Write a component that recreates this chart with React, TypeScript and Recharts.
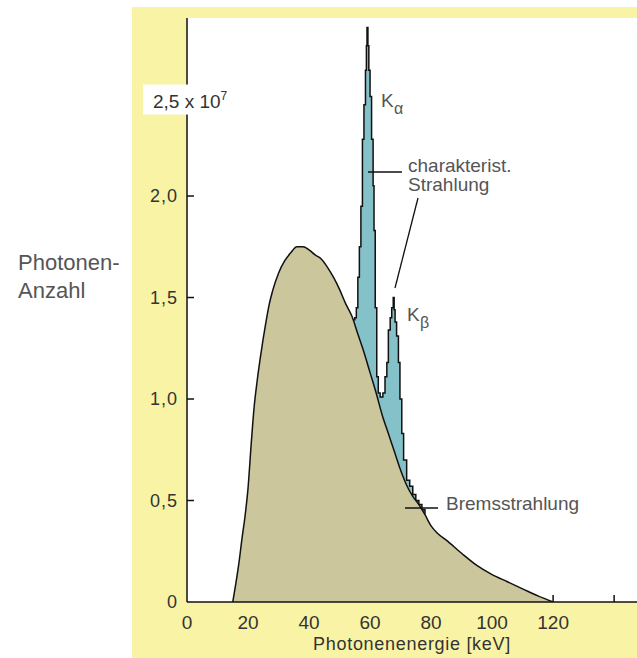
import React from "react";
import { Area, CartesianGrid, ComposedChart, XAxis, YAxis } from "recharts";

// Bremsstrahlung continuum (counts in units of 10^7)
const bremsKeV = [
  15, 16, 17, 18, 19, 20, 21, 22, 23, 24, 25, 26, 27, 28, 30, 32, 34, 36, 38, 40, 42, 44, 46, 48, 50,
  52, 54, 56, 58, 60, 62, 64, 66, 68, 70, 72, 74, 76, 78, 80, 82, 85, 90, 95, 100, 105, 110, 115, 120,
];
const bremsCount = [
  0, 0.09, 0.19, 0.31, 0.42, 0.56, 0.77, 0.96, 1.09, 1.2, 1.3, 1.39, 1.47, 1.53, 1.62, 1.68, 1.72, 1.75,
  1.75, 1.735, 1.71, 1.69, 1.65, 1.6, 1.54, 1.47, 1.41, 1.32, 1.23, 1.13, 1.03, 0.92, 0.83, 0.74, 0.65,
  0.575, 0.52, 0.48, 0.43, 0.375, 0.34, 0.305, 0.24, 0.18, 0.135, 0.1, 0.065, 0.03, 0,
];

// total spectrum around the K lines (characteristic + continuum)
const peakKeV = [
  54.5, 55, 55.5, 56, 56.5, 57, 57.5, 58, 58.5, 58.8, 59, 59.3, 59.6, 60, 60.5, 61, 61.3, 61.7, 62.2,
  62.7, 63.3, 64.2, 64.9, 65.5, 66, 66.6, 67.1, 67.6, 67.9, 68.2, 68.7, 69.3, 69.8, 70.4, 71, 72, 73,
  74, 75, 76, 77, 78,
];
const peakCount = [
  1.39, 1.4, 1.45, 1.6, 1.75, 1.95, 2.28, 2.45, 2.62, 2.74, 2.83, 2.74, 2.62, 2.49, 2.28, 2.05, 1.83,
  1.45, 1.11, 1.03, 1.01, 1.03, 1.11, 1.18, 1.34, 1.4, 1.45, 1.5, 1.44, 1.38, 1.31, 1.18, 1.0, 0.83,
  0.7, 0.6, 0.57, 0.53, 0.5, 0.48, 0.455, 0.43,
];

const xTicks = [0, 20, 40, 60, 80, 100, 120, 140];
const yTicks = [0, 0.5, 1, 1.5, 2, 2.5];
const yLabels = ["0", "0,5", "1,0", "1,5", "2,0", "2,5 x 10"];

const brems = bremsKeV.map((kev, i) => ({ kev, count: bremsCount[i] }));
const peaks = peakKeV.map((kev, i) => ({ kev, count: peakCount[i] }));

const FONT = '"Liberation Sans", Arial, sans-serif';
const YELLOW = "#f9f3a6";

function BottomTick({ x, y, payload }: any) {
  const v = payload.value;
  return (
    <g>
      {v >= 120 && <line x1={x} x2={x} y1={y} y2={y - 7} stroke="#111" strokeWidth={1.5} />}
      {v <= 120 && (
        <text x={x} y={y + 27} textAnchor="middle" fontSize={19} fill="#333" fontFamily={FONT}>
          {v}
        </text>
      )}
    </g>
  );
}

function TopTick({ x, y, payload }: any) {
  if (payload.value === 0) return <g />;
  return <line x1={x} x2={x} y1={y} y2={y + 7} stroke="#111" strokeWidth={1.5} />;
}

function LeftTick({ x, y, payload }: any) {
  const i = yTicks.indexOf(payload.value);
  if (payload.value === 2.5) {
    return (
      <g>
        <rect x={143} y={y - 10} width={100} height={30} fill="#fff" />
        <text x={153} y={y + 13} fontSize={19} fill="#333" fontFamily={FONT}>
          {yLabels[i]}
          <tspan dy={-8} fontSize={12}>
            7
          </tspan>
        </text>
      </g>
    );
  }
  return (
    <g>
      {payload.value > 0 && <line x1={x} x2={x + 7} y1={y} y2={y} stroke="#111" strokeWidth={1.5} />}
      <text
        x={x - 9}
        y={y + 6}
        textAnchor="end"
        fontSize={18}
        fill="#333"
        fontFamily={FONT}
        style={{ letterSpacing: 1 }}
      >
        {yLabels[i]}
      </text>
    </g>
  );
}

export default function App() {
  return (
    <div style={{ position: "absolute", left: 0, top: 0, width: 637, height: 658, background: "#fff", fontFamily: FONT }}>
      <div style={{ position: "absolute", left: 132, top: 7, width: 505, height: 651, background: YELLOW }} />
      <div style={{ position: "absolute", left: 0, top: 0 }}>
        <ComposedChart width={637} height={658} margin={{ top: 18, right: 0, bottom: 0, left: 0 }}>
          <CartesianGrid horizontal={false} vertical={false} fill="#fff" />
          <XAxis
            xAxisId="b"
            type="number"
            dataKey="kev"
            domain={[0, 147.5]}
            ticks={xTicks}
            allowDataOverflow
            height={56}
            tickSize={0}
            tickMargin={0}
            tickLine={false}
            axisLine={{ stroke: "#111", strokeWidth: 1.5 }}
            tick={<BottomTick />}
            label={{
              value: "Photonenenergie [keV]",
              position: "insideBottom",
              offset: 8,
              fontSize: 18,
              fill: "#333",
              fontFamily: FONT,
              style: { letterSpacing: 0.7 },
            }}
          />
          <XAxis
            xAxisId="t"
            orientation="top"
            type="number"
            dataKey="kev"
            domain={[0, 147.5]}
            ticks={xTicks}
            allowDataOverflow
            height={0}
            tickSize={0}
            tickMargin={0}
            tickLine={false}
            axisLine={{ stroke: "#111", strokeWidth: 1.5 }}
            tick={<TopTick />}
          />
          <YAxis
            type="number"
            domain={[0, 2.877]}
            ticks={yTicks}
            allowDataOverflow
            width={187}
            tickSize={0}
            tickMargin={0}
            tickLine={false}
            axisLine={{ stroke: "#111", strokeWidth: 1.5 }}
            tick={<LeftTick />}
          />
          <Area
            xAxisId="b"
            data={peaks}
            dataKey="count"
            type="stepAfter"
            fill="#84c1c8"
            fillOpacity={1}
            stroke="#111"
            strokeWidth={1.5}
            isAnimationActive={false}
          />
          <Area
            xAxisId="b"
            data={brems}
            dataKey="count"
            type="monotone"
            fill="#ccc69c"
            fillOpacity={1}
            stroke="#111"
            strokeWidth={1.5}
            isAnimationActive={false}
          />
        </ComposedChart>
      </div>
      <svg width={637} height={658} style={{ position: "absolute", left: 0, top: 0, pointerEvents: "none" }}>
        <g fontFamily={FONT} fill="#555">
          <text x={18} y={270} fontSize={22}>Photonen-</text>
          <text x={18} y={298} fontSize={22}>Anzahl</text>
          <text x={381} y={107} fontSize={19}>K</text>
          <text x={394} y={114} fontSize={16}>α</text>
          <text x={408} y={172} fontSize={19}>charakterist.</text>
          <text x={408} y={191} fontSize={19}>Strahlung</text>
          <text x={407} y={321} fontSize={19}>K</text>
          <text x={420} y={328} fontSize={16}>β</text>
          <text x={446} y={510} fontSize={19}>Bremsstrahlung</text>
        </g>
        <g stroke="#111" strokeWidth={1.3}>
          <line x1={368} y1={172} x2={402} y2={172} />
          <line x1={418} y1={198} x2={395} y2={288} />
          <line x1={405} y1={508} x2={438} y2={508} />
        </g>
      </svg>
    </div>
  );
}
